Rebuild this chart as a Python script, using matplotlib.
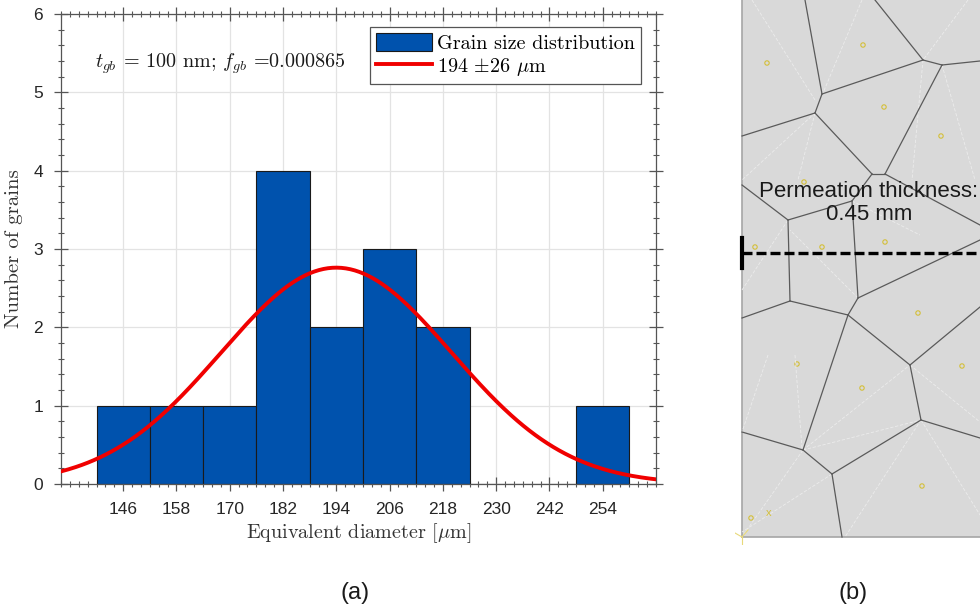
import numpy as np
import matplotlib
matplotlib.use('Agg')
import matplotlib.pyplot as plt
from matplotlib.ticker import MultipleLocator
from matplotlib.patches import Rectangle

plt.rcParams['mathtext.fontset'] = 'cm'
plt.rcParams['font.family'] = ['Liberation Sans', 'DejaVu Sans']

# (a) grain size histogram
bin_centers = [146, 158, 170, 182, 194, 206, 218, 230, 242, 254]
counts = [1, 1, 1, 4, 2, 3, 2, 0, 0, 1]
bin_width = 12
mu, sd = 194, 26
tick_vals = [146, 158, 170, 182, 194, 206, 218, 230, 242, 254]

# (b) voronoi sketch, image pixel coordinates
vor_edges = [
    (805, 0, 822, 94), (822, 94, 815, 113), (815, 113, 742, 136),
    (822, 94, 923, 60), (875, 0, 923, 60), (923, 60, 942, 65),
    (942, 65, 980, 61), (942, 65, 885, 174), (815, 113, 872, 174),
    (872, 174, 885, 174), (872, 174, 852, 201), (885, 174, 980, 225),
    (742, 185, 788, 220), (788, 220, 852, 201), (788, 220, 790, 301),
    (852, 201, 858, 298), (858, 298, 980, 240), (742, 318, 790, 301),
    (790, 301, 848, 315), (858, 298, 848, 315), (848, 315, 803, 450),
    (848, 315, 910, 365), (910, 365, 980, 307), (910, 365, 921, 420),
    (921, 420, 980, 438), (921, 420, 832, 474), (742, 432, 803, 450),
    (803, 450, 832, 474), (832, 474, 842, 537),
]
faint_edges = [
    (752, 0, 815, 100), (862, 0, 823, 93), (968, 0, 923, 60),
    (923, 60, 912, 180), (942, 65, 975, 180), (815, 113, 798, 180),
    (815, 113, 742, 180), (803, 450, 910, 365), (803, 450, 921, 420),
    (803, 450, 742, 537), (832, 474, 742, 532), (921, 420, 845, 537),
    (921, 420, 980, 515), (910, 365, 980, 422), (795, 355, 802, 448),
    (768, 355, 742, 432), (852, 201, 920, 235),
    (858, 298, 790, 230), (742, 290, 788, 220),
]
seed_x = [767, 863, 884, 941, 804, 755, 822, 885, 918, 797, 862, 962, 922, 751]
seed_y = [63, 45, 107, 136, 182, 247, 247, 242, 313, 364, 388, 366, 486, 518]

fig = plt.figure(figsize=(9.8, 6.1), dpi=100)

ax = fig.add_axes([61/980, 1-484/610, 595/980, 470/610])
bars = ax.bar(bin_centers, counts, width=bin_width, color='#0052ad', edgecolor='#1a1a1a',
              linewidth=0.8, zorder=2)
xs = np.linspace(132, 266, 400)
ys = sum(counts)*bin_width/(sd*np.sqrt(2*np.pi))*np.exp(-(xs-mu)**2/(2*sd**2))
line, = ax.plot(xs, ys, color='#f00000', lw=2.8, zorder=3)

ax.set_xlim(132, 266)
ax.set_ylim(0, 6)
ax.set_xticks(tick_vals)
ax.xaxis.set_minor_locator(MultipleLocator(2))
ax.yaxis.set_minor_locator(MultipleLocator(0.2))
ax.grid(True, which='major', color='#e3e3e3', lw=0.9, zorder=0)
ax.set_axisbelow(True)
ax.tick_params(which='both', direction='inout', top=True, right=True,
               color='#555555', labelsize=12.5, labelcolor='#262626')
ax.tick_params(which='major', length=10, width=0.9, pad=8)
ax.tick_params(which='minor', length=5, width=0.8)
for s in ax.spines.values():
    s.set_color('#555555')
    s.set_linewidth(0.9)

ax.set_xlabel(r'Equivalent diameter $[\mu\mathrm{m}]$', family='cmr10', fontsize=14.5,
              color='#333333', labelpad=3)
ax.set_ylabel('Number of grains', family='cmr10', fontsize=15, color='#333333', labelpad=7)
ax.text(139.7, 5.36, r'$t_{gb}$ = 100 nm; $f_{gb}$ =0.000865', family='cmr10',
        fontsize=14.5, va='center', ha='left', color='#1a1a1a')

leg = ax.legend([bars, line], ['Grain size distribution', r'194 $\pm$26 $\mu$m'],
                loc='upper right', bbox_to_anchor=(0.975, 0.972), borderaxespad=0,
                prop={'family': 'cmr10', 'size': 14.5}, fancybox=False, framealpha=1,
                edgecolor='#555555', handlelength=2.8, handleheight=0.95,
                handletextpad=0.25, borderpad=0.3, labelspacing=0.15)
leg.get_frame().set_linewidth(0.9)

# (b)
bx = fig.add_axes([735/980, 1-545/610, 245/980, 545/610])
bx.set_xlim(735, 980)
bx.set_ylim(545, 0)
bx.axis('off')
bx.add_patch(Rectangle((742, 0), 260, 537, facecolor='#d9d9d9', edgecolor='none'))
bx.plot([742, 742], [0, 537], color='#a6a6a6', lw=1.2)
bx.plot([742, 990], [537, 537], color='#a6a6a6', lw=1.2)
for x1, y1, x2, y2 in faint_edges:
    bx.plot([x1, x2], [y1, y2], color='#ececec', lw=0.6, ls=(0, (4, 2)))
for x1, y1, x2, y2 in vor_edges:
    bx.plot([x1, x2], [y1, y2], color='#5a5a5a', lw=0.9)
bx.scatter(seed_x, seed_y, s=10, facecolors='none', edgecolors='#d4bf3a', linewidths=0.8)
bx.text(769, 513, 'x', color='#d4bf3a', fontsize=8, ha='center', va='center')
bx.plot([742, 735], [537, 533], color='#e8d97a', lw=0.8)
bx.plot([742, 742], [537, 545], color='#e8d97a', lw=0.8)
bx.plot([742, 748], [537, 530], color='#e8d97a', lw=0.8)
bx.plot([742, 985], [253, 253], color='black', lw=2.4, dashes=(3, 1.2))
bx.plot([742, 742], [238, 268], color='black', lw=3)
bx.text(869, 203, 'Permeation thickness:\n0.45 mm', ha='center', va='center',
        fontsize=16, color='#1a1a1a', linespacing=1.1, clip_on=False)

fig.text(355/980, 1-593/610, '(a)', ha='center', va='center', fontsize=17, color='#1a1a1a')
fig.text(853/980, 1-593/610, '(b)', ha='center', va='center', fontsize=17, color='#1a1a1a')

fig.savefig('out.png', dpi=100)
